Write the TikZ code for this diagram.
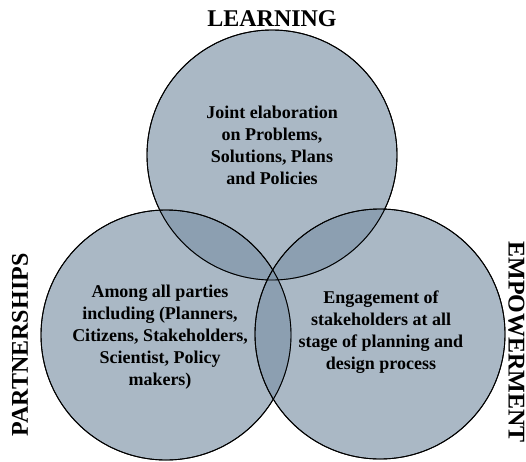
\documentclass[tikz,border=0pt]{standalone}
\usepackage{fontspec}
\setmainfont{Liberation Serif}
\begin{document}
\begin{tikzpicture}[x=1pt,y=-1pt,
  venn/.style={draw=black,line width=0.9pt,fill=vfill,fill opacity=0.65,draw opacity=1},
  body/.style={align=center,font=\bfseries\fontsize{18}{22}\selectfont,text=black},
  head/.style={font=\bfseries\fontsize{24}{26}\selectfont,text=black,inner sep=0pt}]
\definecolor{vfill}{RGB}{124,146,166}
\useasboundingbox (0,0) rectangle (526,461);
\clip (0,0) rectangle (526,461);
\fill[venn] (272,155) circle (125);
\fill[venn] (166,335) circle (125);
\fill[venn] (380,334) circle (125);
\draw[line width=0.9pt] (272,155) circle (125);
\draw[line width=0.9pt] (166,335) circle (125);
\draw[line width=0.9pt] (380,334) circle (125);
\node[head] (learn) at (272,19) {LEARNING};
\node[head,rotate=90] (part) at (20,345) {PARTNERSHIPS};
\node[head,rotate=-90,anchor=south] (emp) at (508,342) {EMPOWERMENT};
\node[body] (t1) at (272,145) {Joint elaboration\\on Problems,\\Solutions, Plans\\and Policies};
\node[body] (t2) at (160,337) {Among all parties\\including (Planners,\\Citizens, Stakeholders,\\Scientist, Policy\\makers)};
\node[body] (t3) at (381,332) {Engagement of\\stakeholders at all\\stage of planning and\\design process};
\end{tikzpicture}
\end{document}
